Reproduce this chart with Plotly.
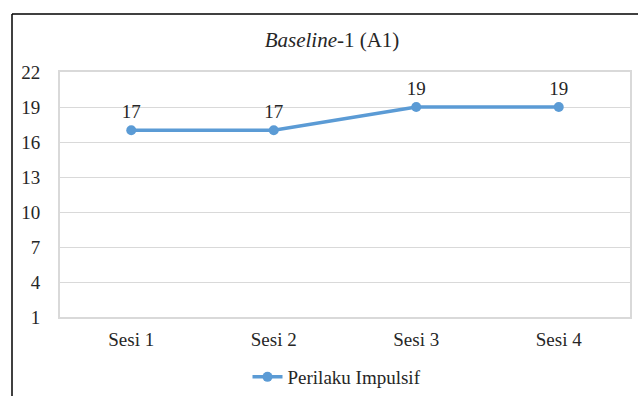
import plotly.graph_objects as go

categories = ["Sesi 1", "Sesi 2", "Sesi 3", "Sesi 4"]
values = [17, 17, 19, 19]
series_name = "Perilaku Impulsif"
y_ticks = [1, 4, 7, 10, 13, 16, 19, 22]

W, H = 638, 396
L, R, T, B = 60, 8, 72, 79
pw, ph = W - L - R, H - T - B

def px_x(x):
    return (x - L) / pw

def px_y(y):
    return (H - B - y) / ph

font = "Liberation Serif"
blue = "#5B9BD5"
txt = "#262626"

fig = go.Figure()
fig.add_trace(go.Scatter(
    x=categories, y=values, mode="lines+markers+text", name=series_name,
    line=dict(color=blue, width=3.5), marker=dict(color=blue, size=10),
    text=[str(v) for v in values], textposition="top center",
    textfont=dict(family=font, size=19, color=txt),
))

fig.update_layout(
    width=W, height=H, margin=dict(l=L, r=R, t=T, b=B, autoexpand=False),
    paper_bgcolor="white", plot_bgcolor="white",
    font=dict(family=font, color=txt, size=19),
    title=dict(text="<i>Baseline</i>-1 (A1)", x=px_x(332), xref="paper", xanchor="center",
               y=1 - 40 / H, yanchor="middle", font=dict(family=font, size=21, color=txt)),
    showlegend=True,
    legend=dict(orientation="h", x=px_x(337), xanchor="center", y=px_y(377), yanchor="middle",
                font=dict(family=font, size=19, color=txt)),
    xaxis=dict(type="category", range=[-0.5, 3.5], showgrid=False, showline=True,
               linecolor="#D9D9D9", linewidth=2, mirror=True, ticks="", ticklabelstandoff=4,
               tickfont=dict(family=font, size=19, color=txt)),
    yaxis=dict(range=[1, 22], tickvals=y_ticks, showgrid=True, gridcolor="#D9D9D9", gridwidth=1,
               showline=True, linecolor="#D9D9D9", linewidth=2, mirror=True, ticks="",
               ticklabelstandoff=14, zeroline=False, tickfont=dict(family=font, size=19, color=txt)),
    shapes=[
        dict(type="line", xref="paper", yref="paper", x0=px_x(12), x1=px_x(640),
             y0=px_y(14), y1=px_y(14), line=dict(color="black", width=1.5)),
        dict(type="line", xref="paper", yref="paper", x0=px_x(12), x1=px_x(12),
             y0=px_y(14), y1=px_y(400), line=dict(color="black", width=1.5)),
    ],
)

fig.write_html("out.html", config={"displayModeBar": False},
               post_script="document.body.style.margin='0';document.body.style.overflow='hidden';")
